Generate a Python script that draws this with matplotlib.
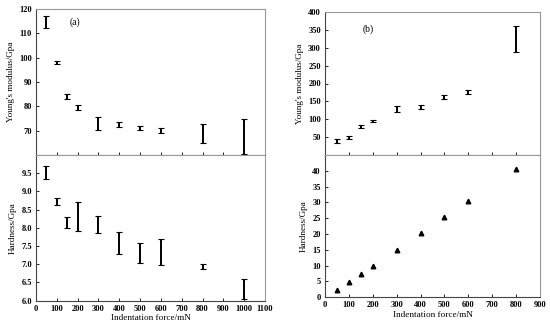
import numpy as np
import matplotlib.pyplot as plt

plt.rcParams['font.family'] = ['Liberation Serif', 'DejaVu Serif']
plt.rcParams['font.weight'] = 'bold'

# panel (a)
force_a = [50, 100, 150, 200, 300, 400, 500, 600, 800, 1000]
modulus_a = [114.7, 98.0, 84.0, 79.6, 72.8, 72.6, 71.2, 69.9, 68.8, 67.7]
modulus_a_err = [2.6, 0.55, 1.0, 1.0, 2.7, 1.0, 0.9, 1.0, 3.8, 7.1]
hard_a = [9.52, 8.72, 8.14, 8.31, 8.10, 7.58, 7.30, 7.33, 6.93, 6.32]
hard_a_err = [0.19, 0.09, 0.15, 0.39, 0.23, 0.31, 0.28, 0.36, 0.07, 0.27]

# panel (b)
force_b = [50, 100, 150, 200, 300, 400, 500, 600, 800]
modulus_b = [39, 49, 80, 95, 128, 135, 162, 176, 323.5]
modulus_b_err = [4.7, 3.7, 5.0, 3.0, 8.0, 5.0, 6.0, 5.6, 36.5]
hard_b = [2.4, 4.9, 7.4, 9.9, 15.1, 20.2, 25.3, 30.4, 40.6]

W, H = 550, 328
fig = plt.figure(figsize=(W / 100, H / 100), dpi=100)


def box(l, t, r, b):
    return [l / W, 1 - b / H, (r - l) / W, (b - t) / H]


ax_a1 = fig.add_axes(box(36, 9, 265, 155))
ax_a2 = fig.add_axes(box(36, 155, 265, 300.6))
ax_b1 = fig.add_axes(box(325, 12, 540, 155))
ax_b2 = fig.add_axes(box(325, 155, 540, 297.3))

eb = dict(fmt='none', ecolor='black', elinewidth=1.4, capsize=2, capthick=0.8)
ax_a1.errorbar(force_a, modulus_a, yerr=modulus_a_err, **eb)
ax_a2.errorbar(force_a, hard_a, yerr=hard_a_err, **eb)
ax_b1.errorbar(force_b, modulus_b, yerr=modulus_b_err, **eb)
ax_b2.plot(force_b, hard_b, '^', color='black', markersize=3.3)

ax_a1.set_ylim(60, 120)
ax_a1.set_yticks(np.arange(70, 121, 10))
ax_a2.set_ylim(6, 10)
ax_a2.set_yticks(np.arange(6.0, 9.6, 0.5))
ax_a2.set_yticklabels(['%.1f' % v for v in np.arange(6.0, 9.6, 0.5)])
for ax in (ax_a1, ax_a2):
    ax.set_xlim(0, 1100)
    ax.set_xticks(np.arange(0, 1101, 100))

ax_b1.set_ylim(0, 400)
ax_b1.set_yticks(np.arange(50, 401, 50))
ax_b2.set_ylim(0, 45)
ax_b2.set_yticks(np.arange(0, 41, 5))
for ax in (ax_b1, ax_b2):
    ax.set_xlim(0, 900)
    ax.set_xticks(np.arange(0, 901, 100))

for ax in (ax_a1, ax_a2, ax_b1, ax_b2):
    ax.tick_params(direction='in', length=2, width=0.6, labelsize=6, pad=3)
    ax.spines['top'].set_color('#999999')
    ax.spines['right'].set_color('#999999')
    ax.spines['left'].set_color('#444444')
    ax.spines['bottom'].set_color('#444444')
    for s in ax.spines.values():
        s.set_linewidth(0.8)

for ax in (ax_a1, ax_b1):
    ax.tick_params(labelbottom=False)
    ax.set_ylabel("Young's modulus/Gpa", fontsize=6.6, labelpad=3)
for ax in (ax_a2, ax_b2):
    ax.set_ylabel('Hardness/Gpa', fontsize=6.6, labelpad=3)
    ax.set_xlabel('Indentation force/mN', fontsize=6.6, labelpad=1)

ax_a1.text(189, 114.7, '(a)', fontsize=7, fontweight='normal', ha='center', va='center')
ax_b1.text(180, 352, '(b)', fontsize=7, fontweight='normal', ha='center', va='center')

fig.savefig('out.png', dpi=100)
